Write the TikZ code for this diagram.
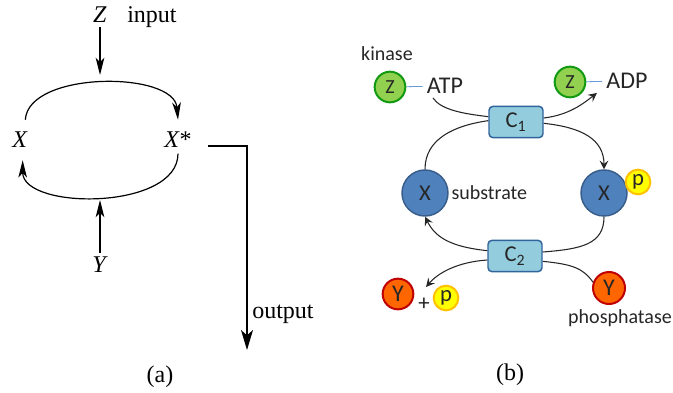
\documentclass[tikz,border=0pt]{standalone}
\usepackage{fontspec}
\setmainfont{Liberation Serif}
\setsansfont{Carlito}
\usetikzlibrary{arrows.meta, positioning}
\definecolor{cgreen}{HTML}{92D050}
\definecolor{cgreenline}{HTML}{119A11}
\definecolor{cblue}{HTML}{4F81BD}
\definecolor{cblueline}{HTML}{385D8A}
\definecolor{cbox}{HTML}{93CDDD}
\definecolor{cboxline}{HTML}{31649C}
\definecolor{corange}{HTML}{FF6600}
\definecolor{credline}{HTML}{C00000}
\definecolor{cyellow}{HTML}{FFFF00}
\definecolor{cyellowline}{HTML}{FFC000}
\definecolor{ctext}{HTML}{262626}
\definecolor{clink}{HTML}{6A9BD8}
\newcommand{\fs}[1]{\fontsize{#1}{#1}\selectfont}
\tikzset{
  lbl/.style={font=\fs{18}, inner sep=3pt},
  note/.style={font=\sffamily\fs{15}, text=ctext, inner sep=2pt},
  chem/.style={font=\sffamily\fs{18}, text=ctext, inner sep=3pt},
  mol/.style 2 args={circle, draw=#2, fill=#1, text=ctext, inner sep=0pt, line width=1.5pt, minimum size=23pt, font=\sffamily\fs{17}},
  flow/.style={-{Stealth[length=13pt, width=6.5pt, inset=3.5pt]}, line width=0.9pt},
  rxn/.style={-{Stealth[length=6.5pt, width=6.5pt, inset=2.5pt]}, draw=black!85, line width=0.8pt},
  plain/.style={draw=black!85, line width=0.8pt},
  link/.style={draw=clink, line width=0.6pt},
}
\begin{document}
\begin{tikzpicture}[x=0.75pt, y=-0.75pt,
  xmol/.style={mol={cblue}{cblueline}, minimum size=34.5pt, line width=1.1pt},
  pmol/.style={mol={cyellow}{cyellowline}, minimum size=18.5pt},
  enz/.style={draw=cboxline, fill=cbox, rounded corners=3pt, line width=1.1pt, text=ctext, font=\sffamily\fs{17}, minimum width=40.5pt, minimum height=23.5pt, inner sep=0pt}]
  \useasboundingbox (0,0) rectangle (673,392);
  % (a)
  \node[lbl] (za) at (100,15) {\textit{Z}};
  \node[lbl, anchor=base west] (inp) at ([xshift=9pt]za.base east) {input};
  \coordinate (ztip) at (100,75);
  \draw[flow] (za) -- (ztip);
  \node[lbl, minimum height=30pt] (xa) at (20,140) {\textit{X}};
  \node[lbl, minimum height=30pt] (xsa) at (178,140) {\textit{X}*};
  \draw[flow] ([xshift=4pt]xa.north) .. controls +(3,-49) and +(-4,-49) .. (xsa.north);
  \draw[flow] ([yshift=5pt]xsa.south) .. controls +(0,57) and +(0,50) .. ([xshift=2pt]xa.south);
  \node[lbl] (ya) at (100,265) {\textit{Y}};
  \coordinate (ytip) at (100,200);
  \draw[flow] (ya) -- (ytip);
  \coordinate (outend) at (247,350);
  \draw[flow, -{Stealth[length=15pt, width=9pt, inset=4pt]}] ([shift={(9pt,-4.5pt)}]xsa.east) -| (outend);
  \node[lbl, anchor=base west] (outl) at (248,318) {output};
  \node[lbl] (capa) at (160,377) {(a)};
  % (b)
  \node[note] (kin) at (387,54) {kinase};
  \node[mol={cgreen}{cgreenline}, font=\sffamily\fs{15}] (zk) at (390,87) {Z};
  \node[chem] (atp) at (445,86) {ATP};
  \draw[link] (zk) -- (atp);
  \node[mol={cgreen}{cgreenline}, font=\sffamily\fs{15}] (zr) at (570,82) {Z};
  \node[chem] (adp) at (627,81) {ADP};
  \draw[link] (zr) -- (adp);
  \node[enz] (c1) at (516,122) {C\textsubscript{1}};
  \node[enz] (c2) at (515,256) {C\textsubscript{2}};
  \node[xmol] (xl) at (425,193) {X};
  \node[xmol] (xr) at (604,193) {X};
  \node[note, anchor=west] (sub) at (xl.east) {substrate};
  \node[pmol] (pr) at (638,182) {p};
  \node[mol={corange}{credline}, font=\sffamily\fs{18}] (yl) at (398,294) {Y};
  \node[note, font=\sffamily\fs{17}] (plus) at (424,304) {+};
  \node[pmol] (pb) at (446,298) {p};
  \node[mol={corange}{credline}, font=\sffamily\fs{18}, minimum size=24pt] (yr) at (609,288) {Y};
  \node[note] (pho) at (620,318) {phosphatase};
  \coordinate (ptip) at (426,287);
  \draw[plain] ([xshift=-9pt]atp.south) .. controls +(8,12) and +(-25,-3) .. ([yshift=4pt]c1.west);
  \draw[rxn] ([yshift=3pt]c1.east) .. controls +(25,-3) and +(-14,11) .. ([xshift=-4pt]adp.south west);
  \draw[plain] (xl.north) .. controls +(0,-30) and +(-35,5) .. ([yshift=1pt]c1.west);
  \draw[rxn] ([yshift=-1pt]c1.east) .. controls +(38,4) and +(0,-30) .. (xr.north);
  \draw[rxn] ([yshift=4pt]c2.west) .. controls +(-38,-4) and +(10,20) .. (xl.south);
  \draw[plain] (xr.south) .. controls +(0,28) and +(38,-3) .. ([yshift=3pt]c2.east);
  \draw[rxn] ([yshift=-3pt]c2.west) .. controls +(-30,2) and +(12,-14) .. (ptip);
  \draw[plain] ([yshift=-4pt]c2.east) .. controls +(30,3) and +(-10,-14) .. (yr.160);
  \node[lbl] (capb) at (510,375) {(b)};
\end{tikzpicture}
\end{document}
